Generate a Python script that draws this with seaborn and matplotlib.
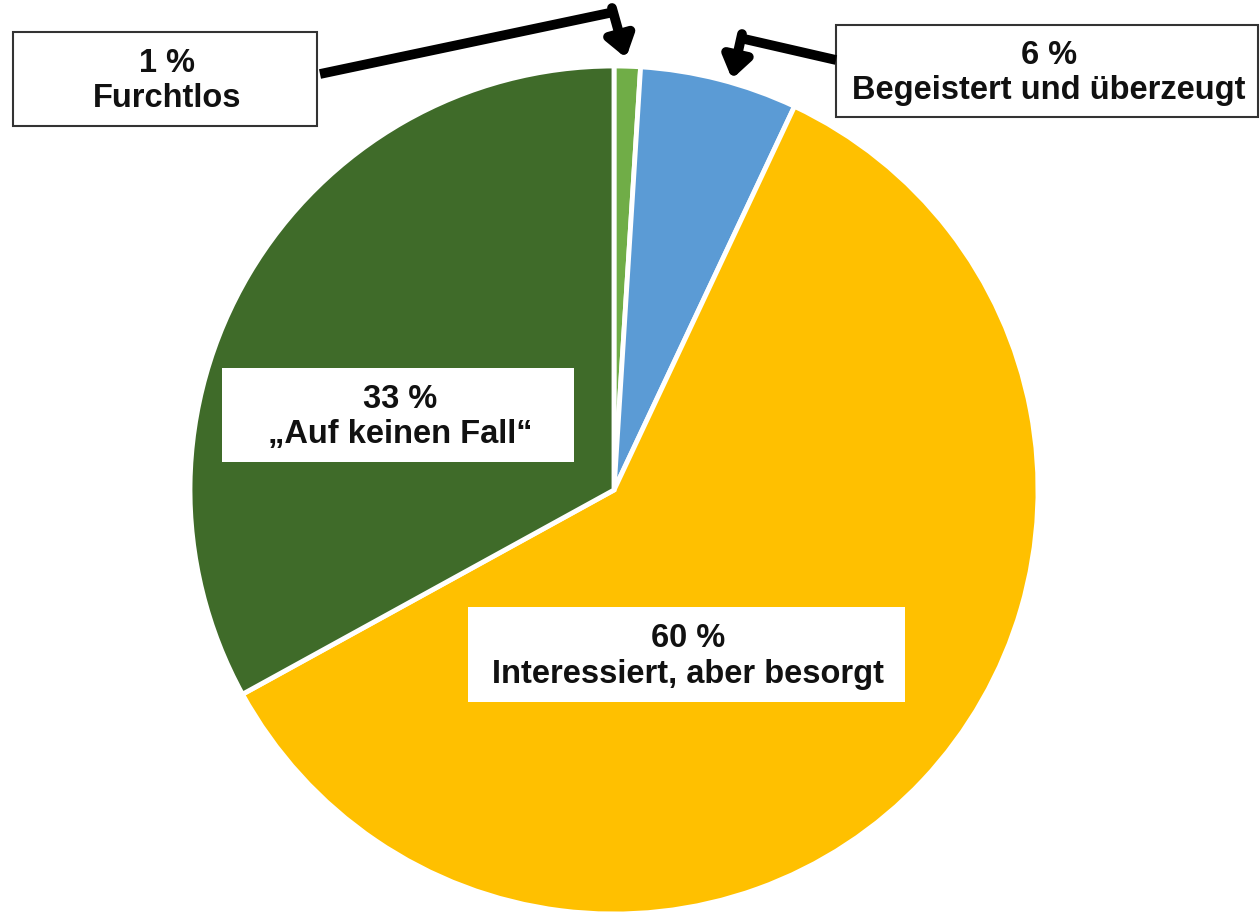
import matplotlib
matplotlib.use("Agg")
import matplotlib.pyplot as plt
import seaborn as sns

sns.set_theme(style="white")
plt.rcParams['font.family'] = ['Liberation Sans', 'DejaVu Sans']

categories = ["Furchtlos", "Begeistert und überzeugt", "Interessiert, aber besorgt", "\u201eAuf keinen Fall\u201c"]
values = [1, 6, 60, 33]
colors = ["#70AD47", "#5B9BD5", "#FFC000", "#3F6B29"]
labels = [f"{v} %\n{c}" for v, c in zip(values, categories)]

W, H = 1260, 919
fig = plt.figure(figsize=(12.6, 9.19), dpi=100)
ax = fig.add_axes([0, 0, 1, 1])

def Y(y):
    return H - y

cx, cy, r = 614, Y(490), 424
ax.pie(values, colors=colors, startangle=90, counterclock=False,
       center=(cx, cy), radius=r, frame=True,
       wedgeprops=dict(edgecolor="white", linewidth=3.5))
ax.set_xlim(0, W)
ax.set_ylim(0, H)
ax.axis("off")

# label boxes (x0, y0, x1, y1 in pixel coordinates from top)
boxes = [
    (13, 32, 317, 126, True),
    (836, 25, 1258, 117, True),
    (468, 607, 905, 702, False),
    (222, 368, 574, 462, False),
]
for lab, (x0, y0, x1, y1, border) in zip(labels, boxes):
    rect = plt.Rectangle((x0, Y(y1)), x1 - x0, y1 - y0, facecolor="white",
                         edgecolor="#333333" if border else "white",
                         linewidth=1.5 if border else 0, zorder=3)
    ax.add_patch(rect)
    ax.text((x0 + x1) / 2 + 2, Y((y0 + y1) / 2 + 2), lab, ha="center", va="center",
            fontsize=23.5, fontweight="bold", color="#111111", linespacing=1.2, zorder=4)

# callout arrows
lw = 7
ax.plot([320, 614], [Y(74), Y(12)], color="black", lw=lw, solid_capstyle="butt", zorder=5)
ax.annotate("", xy=(626, Y(58)), xytext=(612, Y(8)),
            arrowprops=dict(arrowstyle="-|>,head_length=1.0,head_width=0.7", color="black",
                            lw=lw, shrinkA=0, shrinkB=0), zorder=5)
ax.plot([836, 740], [Y(60), Y(38)], color="black", lw=lw, solid_capstyle="butt", zorder=5)
ax.annotate("", xy=(732, Y(79)), xytext=(742, Y(34)),
            arrowprops=dict(arrowstyle="-|>,head_length=1.0,head_width=0.7", color="black",
                            lw=lw, shrinkA=0, shrinkB=0), zorder=5)

fig.savefig("out.png", dpi=100, facecolor="white")
